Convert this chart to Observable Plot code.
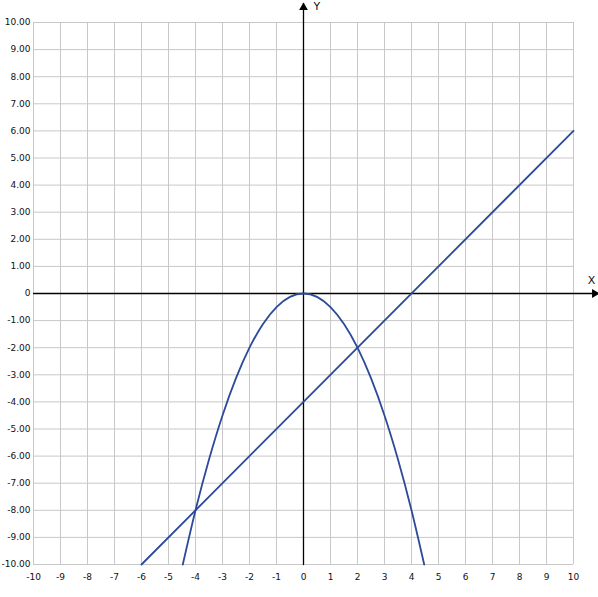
<!DOCTYPE html>
<html>
<head>
<meta charset="utf-8">
<script src="https://cdn.jsdelivr.net/npm/d3@7"></script>
<script src="https://cdn.jsdelivr.net/npm/@observablehq/plot@0.6"></script>
<style>
  html, body { margin: 0; padding: 0; background: #fff; }
  #chart svg { display: block; }
</style>
</head>
<body>
<div id="chart"></div>
<script>
// Tick values
const xTicks = [-10,-9,-8,-7,-6,-5,-4,-3,-2,-1,0,1,2,3,4,5,6,7,8,9,10];
const yTicks = [-10,-9,-8,-7,-6,-5,-4,-3,-2,-1,0,1,2,3,4,5,6,7,8,9,10];

// Parabola points
const parabolaX = [-4.47,-4,-3.5,-3,-2.5,-2,-1.5,-1,-0.5,0,0.5,1,1.5,2,2.5,3,3.5,4,4.47];
const parabolaY = [-10,-8,-6.125,-4.5,-3.125,-2,-1.125,-0.5,-0.125,0,-0.125,-0.5,-1.125,-2,-3.125,-4.5,-6.125,-8,-10];

// Straight line endpoints
const lineX = [-6, 10];
const lineY = [-10, 6];

// Axis extents (arrow tips)
const xAxisX = [-10, 10.93];
const yAxisY = [-10, 10.7];

const parabola = parabolaX.map((x, i) => ({x, y: parabolaY[i]}));
const straight = lineX.map((x, i) => ({x, y: lineY[i]}));

const curveColor = "#2c4a9a";

const chart = Plot.plot({
  width: 598,
  height: 597,
  marginLeft: 33,
  marginRight: 25,
  marginTop: 22,
  marginBottom: 33,
  style: {fontFamily: "DejaVu Sans, Verdana, sans-serif", fontSize: "9px", color: "#111", background: "#fff", overflow: "visible"},
  x: {domain: [-10, 10], label: null},
  y: {domain: [-10, 10], label: null},
  marks: [
    Plot.gridX(xTicks, {stroke: "#c8c8c8", strokeOpacity: 1, strokeWidth: 1}),
    Plot.gridY(yTicks, {stroke: "#c8c8c8", strokeOpacity: 1, strokeWidth: 1}),
    Plot.axisX(xTicks, {tickSize: 0, tickPadding: 9, tickFormat: d => String(d), fill: "#111"}),
    Plot.axisY(yTicks, {tickSize: 0, tickPadding: 3, tickFormat: d => d === 0 ? "0" : d.toFixed(2), fill: "#111"}),
    Plot.line(xAxisX.map(x => ({x, y: 0})), {x: "x", y: "y", stroke: "black", strokeWidth: 1.3, clip: false}),
    Plot.line(yAxisY.map(y => ({x: 0, y})), {x: "x", y: "y", stroke: "black", strokeWidth: 1.3, clip: false}),
    Plot.dot([{x: xAxisX[1], y: 0}], {x: "x", y: "y", symbol: "triangle2", r: 4.2, rotate: 90, fill: "black", stroke: "none", dx: -4}),
    Plot.dot([{x: 0, y: yAxisY[1]}], {x: "x", y: "y", symbol: "triangle2", r: 4.2, fill: "black", stroke: "none", dy: 4}),
    Plot.text([{x: 0.37, y: 10.6, t: "Y"}], {x: "x", y: "y", text: "t", textAnchor: "start", fontSize: 11, fill: "#111"}),
    Plot.text([{x: 10.67, y: 0.48, t: "X"}], {x: "x", y: "y", text: "t", fontSize: 11, fill: "#111"}),
    Plot.line(straight, {x: "x", y: "y", stroke: curveColor, strokeWidth: 1.8}),
    Plot.line(parabola, {x: "x", y: "y", stroke: curveColor, strokeWidth: 1.8, curve: "natural"})
  ]
});
document.getElementById("chart").appendChild(chart);
</script>
</body>
</html>
